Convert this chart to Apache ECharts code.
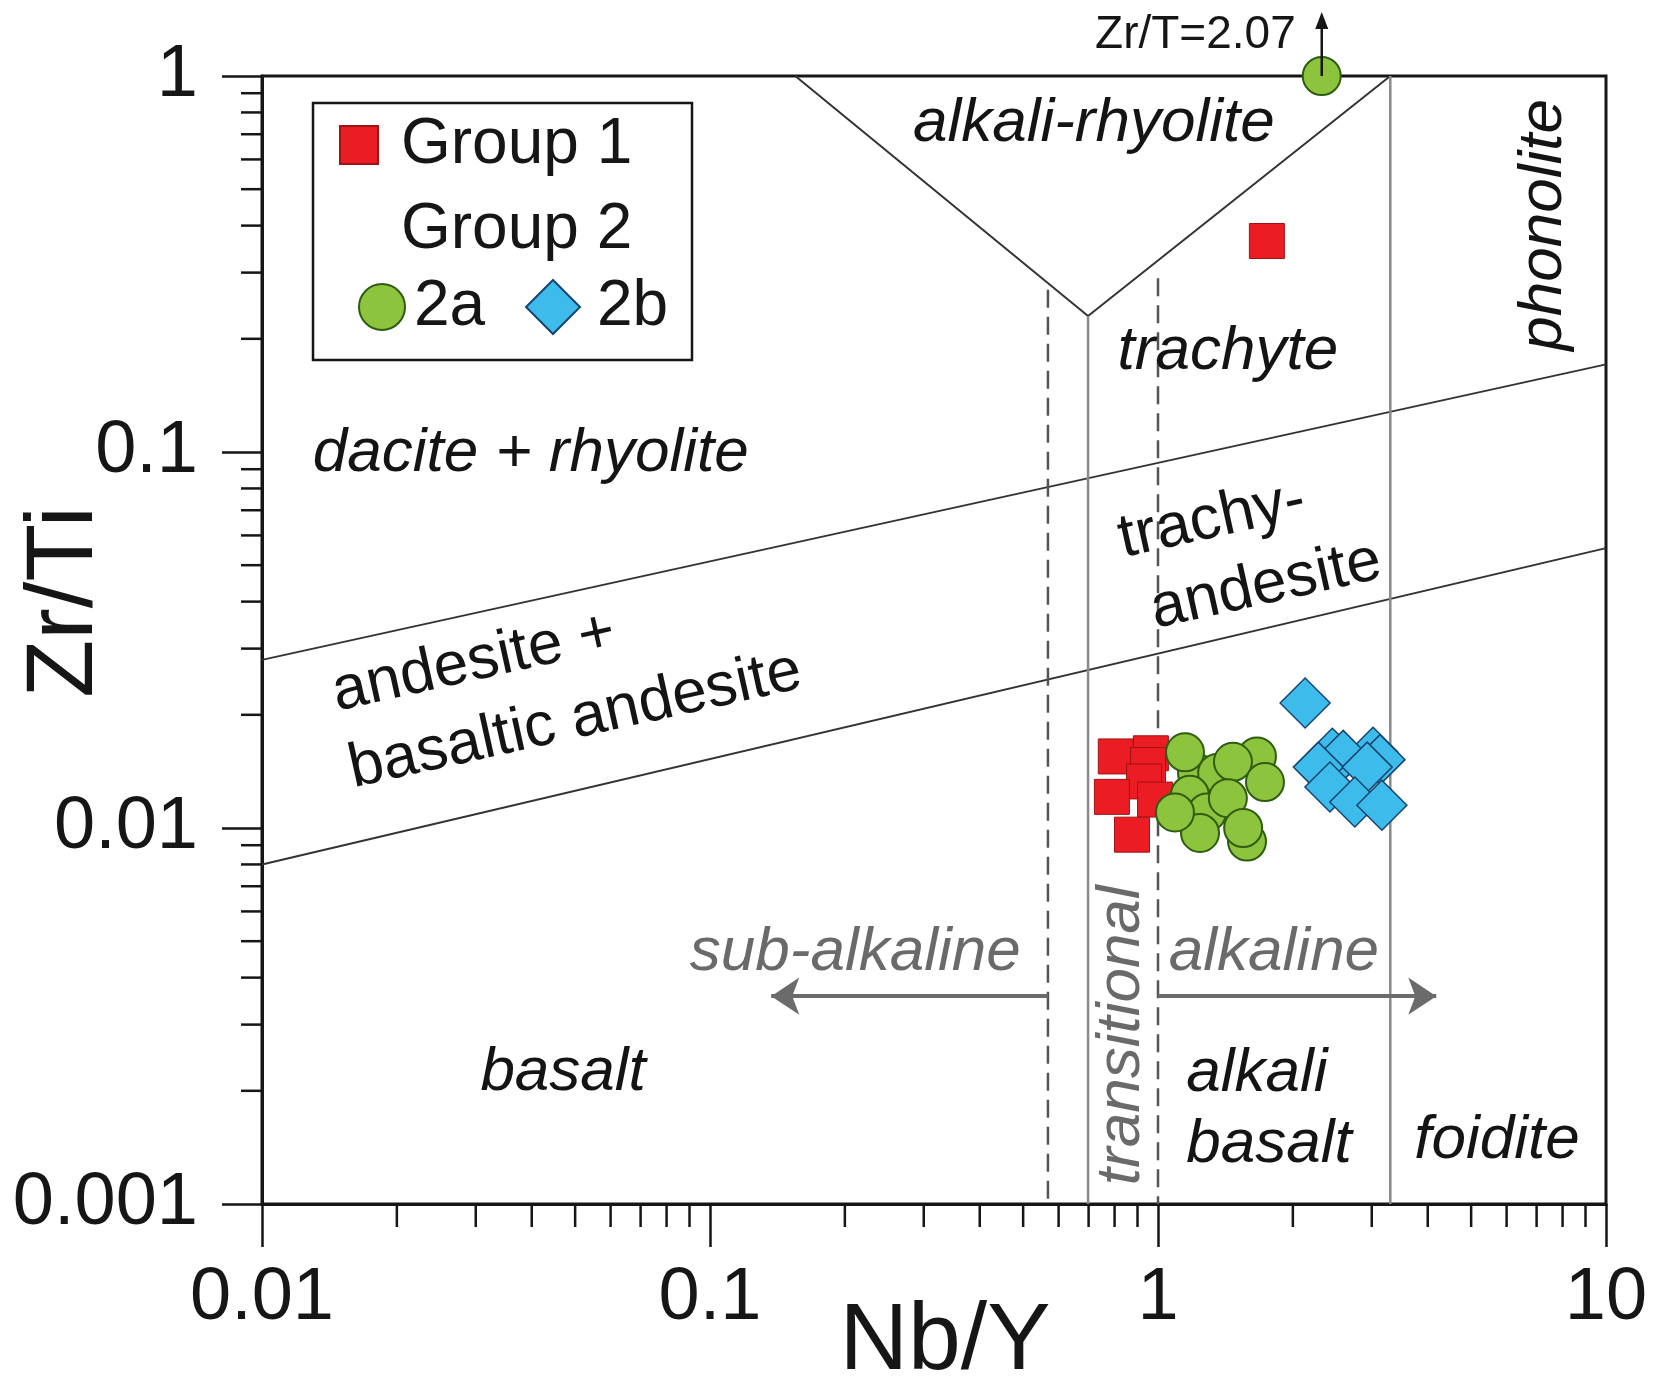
<!DOCTYPE html>
<html>
<head>
<meta charset="utf-8">
<script src="https://cdn.jsdelivr.net/npm/echarts@6/dist/echarts.min.js"></script>
<style>html,body{margin:0;padding:0;background:#fff}#chart{width:1656px;height:1392px}</style>
</head>
<body>
<div id="chart"></div>
<script>
// ---------- axis ticks ----------
const xTickLabels = ['0.01', '0.1', '1', '10'];
const yTickLabels = ['0.001', '0.01', '0.1', '1'];
const minorMultipliers = [2, 3, 4, 5, 6, 7, 8, 9];
const xDecades = [0.01, 0.1, 1];
const yDecades = [0.001, 0.01, 0.1];

// ---------- samples [Nb/Y, Zr/Ti] ----------
const group1 = [
  [0.805, 0.0155], [0.964, 0.0158], [0.950, 0.0147], [0.931, 0.0133],
  [0.789, 0.0121], [0.985, 0.0119], [0.875, 0.0096], [1.75, 0.364]
];
const group2a = [
  [1.663, 0.0155], [1.222, 0.0140], [1.355, 0.0140], [1.178, 0.01225],
  [1.286, 0.0110], [1.241, 0.0097], [1.58, 0.0092],
  [1.149, 0.0159], [1.47, 0.0150], [1.733, 0.01325], [1.432, 0.0120],
  [1.091, 0.0110], [1.549, 0.0100]
];
const group2aOffscale = [[2.32, 2.07]];
const group2b = [
  [2.13, 0.0215], [2.45, 0.0158], [3.02, 0.0159], [2.59, 0.0156],
  [3.13, 0.0152], [2.28, 0.01452], [2.93, 0.01452], [2.42, 0.01285],
  [2.75, 0.01173], [3.16, 0.0115]
];

// ---------- field boundaries ----------
const boundaryUpper = [[0.01, 0.028], [10, 0.171]];
const boundaryLower = [[0.01, 0.0080], [10, 0.0555]];
const alkaliRhyoliteV = [[0.155, 1], [0.698, 0.23], [3.3, 1]];
const transitionalSolid = [[0.698, 0.23], [0.698, 0.001]];
const foiditeLine = [[3.3, 1], [3.3, 0.001]];
const subAlkalineDashed = [[0.568, 0.27], [0.568, 0.001]];
const alkalineDashed = [[1, 0.29], [1, 0.001]];
const subAlkalineArrow = [[0.568, 0.00357], [0.137, 0.00357]];
const alkalineArrow = [[1, 0.00357], [4.18, 0.00357]];

// ---------- field names (anchored in data units) ----------
const fieldLabels = [
  { text: 'alkali-rhyolite', at: [0.719, 0.745], kind: 'field' },
  { text: 'trachyte', at: [1.432, 0.1845], kind: 'field' },
  { text: 'phonolite', at: [7.27, 0.402], kind: 'field', vertical: true },
  { text: 'dacite + rhyolite', at: [0.0398, 0.0989], kind: 'field' },
  { text: 'trachy-', at: [1.32, 0.0659], kind: 'slanted' },
  { text: 'andesite', at: [1.742, 0.0440], kind: 'slanted' },
  { text: 'andesite +', at: [0.0297, 0.0275], kind: 'slanted' },
  { text: 'basaltic andesite', at: [0.05, 0.0193], kind: 'slanted' },
  { text: 'sub-alkaline', at: [0.211, 0.00465], kind: 'series' },
  { text: 'alkaline', at: [1.815, 0.00465], kind: 'series' },
  { text: 'transitional', at: [0.831, 0.00281], kind: 'series', vertical: true },
  { text: 'basalt', at: [0.047, 0.00224], kind: 'field' },
  { text: 'alkali', at: [1.663, 0.00222], kind: 'field' },
  { text: 'basalt', at: [1.77, 0.00144], kind: 'field' },
  { text: 'foidite', at: [5.71, 0.00147], kind: 'field' }
];

// ---------- build chart ----------
const FONT = '"Liberation Sans", Arial, Helvetica, sans-serif';
const X_MIN = 0.01, X_MAX = 10, Y_MIN = 0.001, Y_MAX = 1;
const INK = '#161616';

const xMinor = [];
xDecades.forEach(d => minorMultipliers.forEach(m => xMinor.push([d * m, Y_MIN])));
const yMinor = [];
yDecades.forEach(d => minorMultipliers.forEach(m => yMinor.push([X_MIN, d * m])));

function boundary(name, data, color, width, type, extra) {
  return Object.assign({
    name, type: 'line', data, symbol: 'none', silent: true, clip: false, z: 2,
    lineStyle: { color, width, type: type || 'solid' }
  }, extra || {});
}

const kindStyle = {
  field: { fontStyle: 'italic', color: '#141414', rotate: 0 },
  slanted: { fontStyle: 'normal', color: '#141414', rotate: 12.5 },
  series: { fontStyle: 'italic', color: '#6a6a6a', rotate: 0 }
};

const legendText = { fontSize: 64, color: INK, fontFamily: FONT };

const option = {
  animation: false,
  backgroundColor: '#ffffff',
  textStyle: { fontFamily: FONT },
  grid: { left: 262, top: 76, width: 1344, height: 1128, show: true, borderColor: INK, borderWidth: 3,
          backgroundColor: 'transparent', containLabel: false, outerBoundsMode: 'none' },
  xAxis: {
    type: 'log', logBase: 10, min: X_MIN, max: X_MAX, splitNumber: 3,
    name: 'Nb/Y', nameLocation: 'middle', nameGap: 139, nameMoveOverlap: false,
    nameTextStyle: { fontSize: 95, color: INK, fontFamily: FONT, verticalAlign: 'middle', align: 'center', padding: [0, 0, 0, 22] },
    axisLine: { show: true, onZero: false, lineStyle: { color: INK, width: 3 } },
    axisTick: { show: true, length: 43, inside: false, lineStyle: { color: INK, width: 2.5 } },
    minorTick: { show: false },
    splitLine: { show: false },
    axisLabel: {
      fontSize: 74, color: INK, margin: 58, fontFamily: FONT,
      formatter: v => xTickLabels[Math.round(Math.log10(v) - Math.log10(X_MIN))]
    }
  },
  yAxis: {
    type: 'log', logBase: 10, min: Y_MIN, max: Y_MAX, splitNumber: 3,
    name: 'Zr/Ti', nameLocation: 'middle', nameGap: 196, nameMoveOverlap: false,
    nameTextStyle: { fontSize: 95, color: INK, fontFamily: FONT, verticalAlign: 'middle', align: 'center', padding: [0, 0, 0, 76] },
    axisLine: { show: true, onZero: false, lineStyle: { color: INK, width: 3 } },
    axisTick: { show: true, length: 40, inside: false, lineStyle: { color: INK, width: 2.5 } },
    minorTick: { show: false },
    splitLine: { show: false },
    axisLabel: {
      fontSize: 74, color: INK, margin: 64, fontFamily: FONT, padding: [0, 0, 12, 0],
      formatter: v => yTickLabels[Math.round(Math.log10(v) - Math.log10(Y_MIN))]
    }
  },
  legend: [
    {
      data: [{ name: 'Group 1', icon: 'rect' }, { name: 'Group 2', icon: 'rect' }],
      orient: 'vertical', left: 339, top: 113, itemWidth: 38, itemHeight: 38, itemGap: 21,
      padding: 0, selectedMode: false,
      textStyle: Object.assign({ padding: [0, 0, 0, 18] }, legendText)
    },
    {
      data: [{ name: '2a', icon: 'circle' }],
      left: 358, top: 275, itemWidth: 46, itemHeight: 46,
      padding: 0, selectedMode: false,
      textStyle: Object.assign({ padding: [0, 0, 0, 4] }, legendText)
    },
    {
      data: [{ name: '2b', icon: 'diamond' }],
      left: 525, top: 275, itemWidth: 54, itemHeight: 54,
      padding: 0, selectedMode: false,
      textStyle: Object.assign({ padding: [0, 0, 0, 12] }, legendText)
    }
  ],
  graphic: [
    { type: 'rect', silent: true, z: 10, shape: { x: 313, y: 103, width: 379, height: 257 },
      style: { fill: 'none', stroke: INK, lineWidth: 2.5 } }
  ],
  series: [
    boundary('upper', boundaryUpper, '#333', 2),
    boundary('lower', boundaryLower, '#333', 2),
    boundary('alkali-rhyolite', alkaliRhyoliteV, '#333', 2),
    boundary('transitional', transitionalSolid, '#8a8a8a', 2.5),
    boundary('foidite', foiditeLine, '#8a8a8a', 2.5),
    boundary('subDashed', subAlkalineDashed, '#555', 2.5, [18, 9]),
    boundary('alkDashed', alkalineDashed, '#555', 2.5, [18, 9], {
      markLine: {
        silent: true, animation: false, symbol: ['none', 'arrow'], symbolSize: 28,
        label: { show: false },
        lineStyle: { color: '#6b6b6b', width: 4, type: 'solid' },
        emphasis: { disabled: true },
        data: [
          [{ coord: subAlkalineArrow[0] }, { coord: subAlkalineArrow[1] }],
          [{ coord: alkalineArrow[0] }, { coord: alkalineArrow[1] }]
        ]
      }
    }),
    {
      type: 'custom', name: 'xMinor', silent: true, clip: false, z: 6, data: xMinor,
      renderItem: (params, api) => {
        const p = api.coord([api.value(0), api.value(1)]);
        return { type: 'line', shape: { x1: p[0], y1: p[1], x2: p[0], y2: p[1] + 23 }, style: { stroke: INK, lineWidth: 2.5 } };
      }
    },
    {
      type: 'custom', name: 'yMinor', silent: true, clip: false, z: 6, data: yMinor,
      renderItem: (params, api) => {
        const p = api.coord([api.value(0), api.value(1)]);
        return { type: 'line', shape: { x1: p[0] - 21, y1: p[1], x2: p[0], y2: p[1] }, style: { stroke: INK, lineWidth: 2.5 } };
      }
    },
    {
      type: 'scatter', name: 'labels', silent: true, clip: false, z: 3, symbolSize: 1,
      itemStyle: { color: 'rgba(0,0,0,0)', opacity: 1 },
      data: fieldLabels.map(l => {
        const s = kindStyle[l.kind];
        return {
          name: l.text, value: l.at,
          label: {
            show: true, position: 'inside', formatter: '{b}', fontFamily: FONT, fontSize: 62,
            fontStyle: s.fontStyle, color: s.color, rotate: l.vertical ? 90 : s.rotate,
            align: 'center', verticalAlign: 'middle', textBorderWidth: 0, opacity: 1
          }
        };
      })
    },
    {
      type: 'scatter', name: 'Group 1', data: group1, symbol: 'rect', symbolSize: 35, clip: false, z: 8,
      itemStyle: { color: '#EC1C24', borderColor: '#9c1414', borderWidth: 1, opacity: 1 }
    },
    {
      type: 'scatter', name: 'Group 2', data: [], symbol: 'rect', symbolSize: 1,
      itemStyle: { color: 'rgba(0,0,0,0)', borderWidth: 0 }
    },
    {
      type: 'scatter', name: '2a', symbol: 'circle', symbolSize: 38, clip: false, z: 9,
      data: group2a.concat(group2aOffscale.map(d => [d[0], Math.min(d[1], Y_MAX)])),
      itemStyle: { color: '#8CC43E', borderColor: '#2f5c10', borderWidth: 2, opacity: 1 }
    },
    {
      type: 'scatter', name: '2b', symbol: 'diamond', symbolSize: 50, clip: false, z: 9,
      data: group2b,
      itemStyle: { color: '#3DBBEB', borderColor: '#17456e', borderWidth: 1.5, opacity: 1 }
    },
    {
      type: 'custom', name: 'offscale', silent: true, clip: false, z: 20, data: group2aOffscale,
      renderItem: (params, api) => {
        const v = api.value(1);
        const p = api.coord([api.value(0), Math.min(v, Y_MAX)]);
        const top = p[1] - 64;
        return {
          type: 'group', children: [
            { type: 'line', shape: { x1: p[0], y1: p[1], x2: p[0], y2: top + 12 }, style: { stroke: INK, lineWidth: 2.5 } },
            { type: 'polygon', shape: { points: [[p[0], top], [p[0] - 6.5, top + 17], [p[0] + 6.5, top + 17]] }, style: { fill: INK } },
            { type: 'text', style: { text: 'Zr/T=' + v.toFixed(2), x: p[0] - 26, y: top + 23, align: 'right', verticalAlign: 'middle', font: '46px ' + FONT, fill: INK } }
          ]
        };
      }
    }
  ]
};

const chart = echarts.init(document.getElementById('chart'), null, { renderer: 'canvas' });
chart.setOption(option);
</script>
</body>
</html>
